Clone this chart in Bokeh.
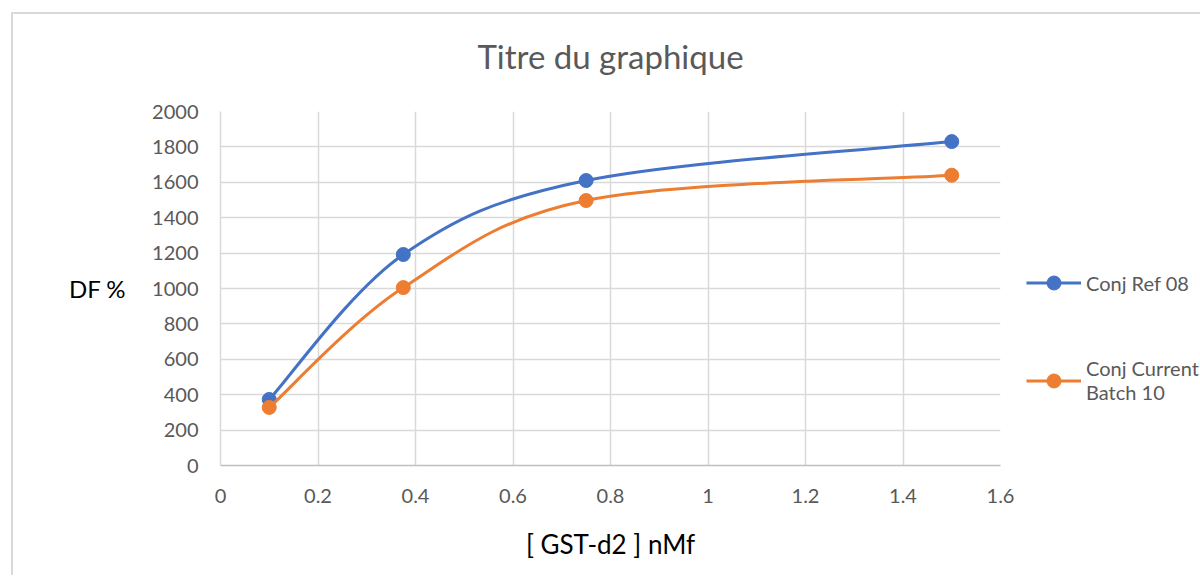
import numpy as np
from bokeh.plotting import figure
from bokeh.models import (Legend, LegendItem, Range1d, FixedTicker, NumeralTickFormatter,
                          LinearAxis)
from bokeh.embed import file_html
from bokeh.resources import INLINE

# ---- data ----
conc = [0.1, 0.375, 0.75, 1.5]
ref08 = [373, 1192, 1610, 1830]
batch10 = [328, 1005, 1497, 1640]
series_names = ["Conj Ref 08", "Conj Current\nBatch 10"]
x_ticks = [0, 0.2, 0.4, 0.6, 0.8, 1.0, 1.2, 1.4, 1.6]
y_ticks = [0, 200, 400, 600, 800, 1000, 1200, 1400, 1600, 1800, 2000]
title_text = "Titre du graphique"
x_label = "[ GST-d2 ] nMf"
y_label = "DF %"

BLUE = "#4472C4"
ORANGE = "#ED7D31"
GRID = "#D9D9D9"
TXT = "#595959"
FONT = "Lato"


def smooth_segments(xs, ys):
    """Catmull-Rom (Excel-like smoothing) converted to cubic Bezier segments."""
    x = np.asarray(xs, float)
    y = np.asarray(ys, float)
    xp = np.concatenate([[x[0]], x, [x[-1]]])
    yp = np.concatenate([[y[0]], y, [y[-1]]])
    n = len(x)
    seg = dict(x0=[], y0=[], x1=[], y1=[], cx0=[], cy0=[], cx1=[], cy1=[])
    for i in range(n - 1):
        a, b, c, d = i, i + 1, i + 2, i + 3
        seg["x0"].append(xp[b]); seg["y0"].append(yp[b])
        seg["x1"].append(xp[c]); seg["y1"].append(yp[c])
        seg["cx0"].append(xp[b] + (xp[c] - xp[a]) / 6)
        seg["cy0"].append(yp[b] + (yp[c] - yp[a]) / 6)
        seg["cx1"].append(xp[c] - (xp[d] - xp[b]) / 6)
        seg["cy1"].append(yp[c] - (yp[d] - yp[b]) / 6)
    return seg


p = figure(frame_width=780, frame_height=354, output_backend="svg", toolbar_location=None,
           x_range=Range1d(0, 1.6), y_range=Range1d(0, 2000),
           min_border_left=207, min_border_right=192, min_border_top=97,
           min_border_bottom=110)
p.styles = {"margin-left": "11px", "margin-top": "12px",
            "border-left": "2px solid #D9D9D9", "border-top": "2px solid #D9D9D9"}

p.outline_line_color = None
p.background_fill_color = "white"
p.border_fill_color = "white"

xa = p.below[0]
ya = p.left[0]

for g in (p.xgrid[0], p.ygrid[0]):
    g.grid_line_color = GRID
    g.grid_line_width = 1.5
p.xgrid[0].ticker = FixedTicker(ticks=x_ticks)
p.ygrid[0].ticker = FixedTicker(ticks=y_ticks)

xa.ticker = FixedTicker(ticks=x_ticks)
ya.ticker = FixedTicker(ticks=y_ticks)
xa.formatter = NumeralTickFormatter(format="0.[0]")
ya.formatter = NumeralTickFormatter(format="0")
for ax in (xa, ya):
    ax.major_tick_line_color = None
    ax.minor_tick_line_color = None
    ax.major_label_text_font = FONT
    ax.major_label_text_font_size = "20px"
    ax.major_label_text_color = TXT
    ax.axis_label_text_font = FONT
    ax.axis_label_text_font_style = "normal"
    ax.axis_label_text_color = "black"
xa.axis_label_text_font_size = "26px"
ya.axis_label_text_font_size = "24px"
xa.axis_line_color = "#BFBFBF"
xa.axis_line_width = 1.5
ya.axis_line_color = GRID
ya.axis_line_width = 1.5
xa.major_label_standoff = 17
ya.major_label_standoff = 16
xa.axis_label = x_label
ya.axis_label = y_label
ya.axis_label_orientation = "horizontal"
xa.axis_label_standoff = 22
ya.axis_label_standoff = 23

# chart title, rendered as the label of a tick-less axis above the plot area
title_axis = LinearAxis(ticker=FixedTicker(ticks=[]), axis_label=title_text)
title_axis.axis_line_color = None
title_axis.major_tick_line_color = None
title_axis.minor_tick_line_color = None
title_axis.major_tick_out = 0
title_axis.major_tick_in = 0
title_axis.minor_tick_out = 0
title_axis.minor_tick_in = 0
title_axis.major_label_standoff = 0
title_axis.axis_label_standoff = 36
title_axis.axis_label_text_font = FONT
title_axis.axis_label_text_font_size = "33px"
title_axis.axis_label_text_font_style = "normal"
title_axis.axis_label_text_color = TXT
p.add_layout(title_axis, "above")

items = []
for ys, col, name in ((ref08, BLUE, series_names[0]), (batch10, ORANGE, series_names[1])):
    seg = smooth_segments(conc, ys)
    curve = p.bezier(source=seg, line_color=col, line_width=3)
    sc = p.scatter(conc, ys, size=14, fill_color=col, line_color=col)
    items.append(LegendItem(label=name, renderers=[curve, sc]))

leg = Legend(items=items, location=(26, 61), orientation="vertical")
leg.padding = 0
leg.margin = 0
leg.spacing = 56
leg.border_line_color = None
leg.background_fill_alpha = 0
leg.glyph_width = 55
leg.glyph_height = 35
leg.label_height = 20
leg.label_standoff = 5
leg.label_text_font = FONT
leg.label_text_font_size = "20px"
leg.label_text_color = TXT
p.add_layout(leg, "right")

open("out.html", "w").write(file_html(p, INLINE))
